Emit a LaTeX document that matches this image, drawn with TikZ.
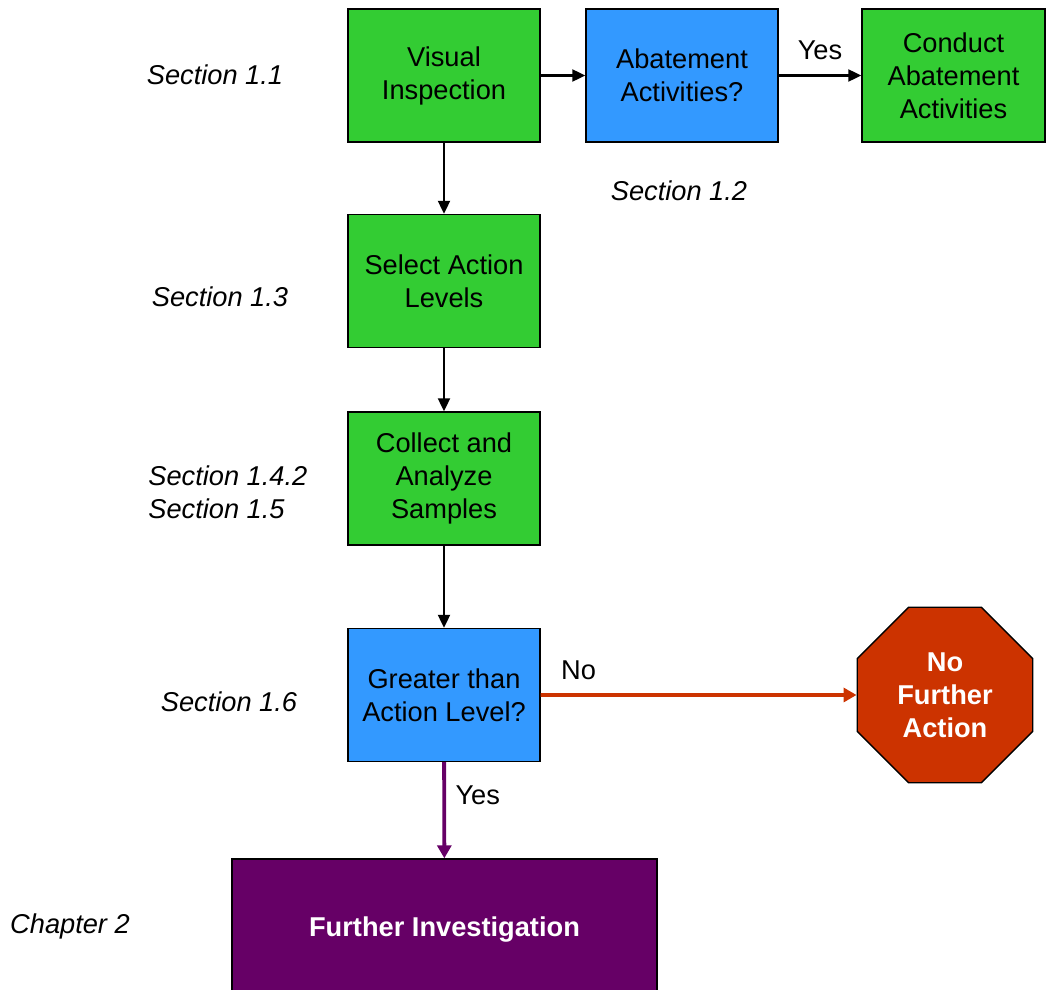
\documentclass[tikz,border=0pt]{standalone}
\usepackage{fontspec}
\setmainfont{Liberation Sans}
\usetikzlibrary{arrows.meta,shapes.geometric}

\definecolor{boxgreen}{HTML}{33CC33}
\definecolor{boxblue}{HTML}{3399FF}
\definecolor{stopred}{HTML}{CC3300}
\definecolor{deeppurple}{HTML}{660066}

\begin{document}
\begin{tikzpicture}
        [x=0.02cm, y=-0.02cm,
        every node/.style={font=\fontsize{15.5}{18.8}\selectfont},
        box/.style={rectangle, draw, line width=0.8pt, minimum width=3.84cm, minimum height=2.66cm, align=center, inner sep=2pt},
        task/.style={box, fill=boxgreen},
        decision/.style={box, fill=boxblue},
        stopsign/.style={regular polygon, regular polygon sides=8, draw, line width=0.8pt, fill=stopred, minimum size=3.8cm, inner sep=0pt, align=center, text=white, font=\fontsize{15.5}{18.8}\selectfont\bfseries},
        sec/.style={font=\fontsize{15.5}{18.8}\selectfont\itshape},
        flow/.style={black, line width=1.2pt, -{Triangle[length=0.26cm, width=0.24cm]}},
        nopath/.style={stopred, line width=2.2pt, -{Triangle[length=0.26cm, width=0.28cm]}},
        yespath/.style={deeppurple, line width=2.2pt, -{Triangle[length=0.26cm, width=0.28cm]}}]

        \useasboundingbox (0,0) rectangle (1046,990);

        % boxes of the flow
        \node[task] (visual) at (444,75.5) {Visual\\Inspection};
        \node[decision] (abate) at (682,75.5) {Abatement\\Activities?};
        \node[task, minimum width=3.66cm] (conduct) at (953.5,75.5) {Conduct\\Abatement\\Activities};
        \node[task] (select) at (444,281) {Select Action\\Levels};
        \node[task] (collect) at (444,478.5) {Collect and\\Analyze\\Samples};
        \node[decision] (greater) at (444,695) {Greater than\\Action Level?};
        \node[stopsign] (nofurther) at (945,695) {No\\Further\\Action};
        \node[box, fill=deeppurple, minimum width=8.5cm, minimum height=2.84cm, text=white, font=\fontsize{15.5}{18.8}\selectfont\bfseries] (further) at (444.5,930) {Further Investigation};

        % section references
        \node[sec] (sec11) at (215,75) {Section 1.1};
        \node[sec] (sec12) at (679,191) {Section 1.2};
        \node[sec] (sec13) at (220,297) {Section 1.3};
        \node[sec, align=left, anchor=west, inner sep=0pt] (sec14) at (148,492) {Section 1.4.2\\Section 1.5};
        \node[sec] (sec16) at (229,702) {Section 1.6};
        \node[sec] (chap2) at (70,926) {Chapter 2};

        % connectors
        \draw[flow] (visual) -- (abate);
        \draw[flow] (abate) -- node[above=5pt] {Yes} (conduct);
        \draw[flow] (visual) -- (select);
        \draw[flow] (select) -- (collect);
        \draw[flow] (collect) -- (greater);
        \draw[nopath] (greater) -- node[pos=0.12, above=4pt, text=black] {No} (nofurther);
        \draw[yespath] (greater) -- node[pos=0.34, right=2pt, text=black] {Yes} (further);

\end{tikzpicture}
\end{document}
